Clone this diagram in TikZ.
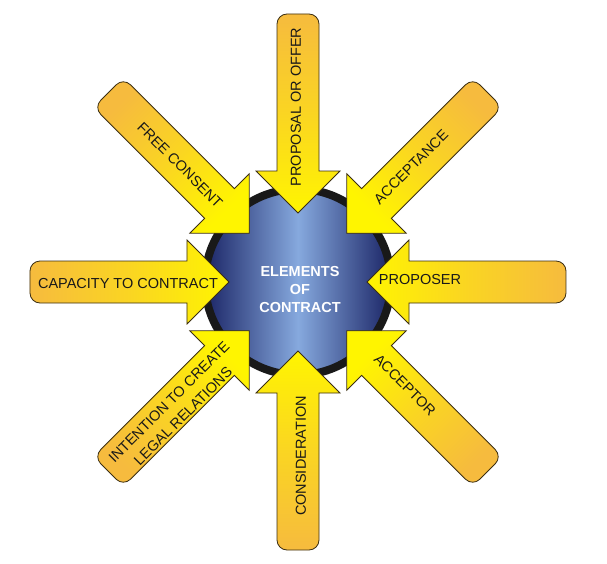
\documentclass[tikz,border=0pt]{standalone}
\usepackage{fontspec}
\setsansfont{Liberation Sans}
\usepackage{xcolor}
\usepackage{tikz}

\definecolor{navy}{HTML}{1B2566}
\definecolor{steel}{HTML}{86A9DE}
\definecolor{amber}{HTML}{F6BB3E}
\definecolor{lemon}{HTML}{FFF500}
\definecolor{rim}{HTML}{3B2E12}

\begin{document}
\begin{tikzpicture}[x=1pt,y=1pt,font=\sffamily\fontsize{14.5}{17}\selectfont,
  core/.style={circle,draw=black!90,line width=8pt,minimum size=186pt,left color=navy,right color=navy,middle color=steel},
  elemarrow/.pic={\draw[draw=rim,line width=.8pt,bottom color=amber,top color=lemon,middle color=lemon!45!amber,shading angle=#1]
    (69,0) -- (111,42) -- (111,21) -- (258,21) arc[start angle=90,end angle=0,radius=10]
    -- (268,-11) arc[start angle=0,end angle=-90,radius=10] -- (111,-21) -- (111,-42) -- cycle;},
  lbl/.style={text=black!90,inner sep=0pt,align=center}]
\useasboundingbox (-298,-281) rectangle (309,282);

% centre disc
\node[core] (core) at (0,0) {};
\node[lbl,text=white,font=\sffamily\bfseries\fontsize{14.5}{18}\selectfont] (core text) at (2,-8) {ELEMENTS\\OF\\CONTRACT};

% the eight arrows, tail out at the angle, tip at the disc
\pic[rotate=0] (proposer arrow) at (core) {elemarrow=90};
\pic[rotate=45] (acceptance arrow) at (core) {elemarrow=135};
\pic[rotate=90] (offer arrow) at (core) {elemarrow=180};
\pic[rotate=135] (consent arrow) at (core) {elemarrow=225};
\pic[rotate=180] (capacity arrow) at (core) {elemarrow=270};
\pic[rotate=225] (intention arrow) at (core) {elemarrow=315};
\pic[rotate=270] (consideration arrow) at (core) {elemarrow=0};
\pic[rotate=315] (acceptor arrow) at (core) {elemarrow=45};

% labels
\node[lbl] (proposer) at (122,2) {PROPOSER};
\node[lbl,rotate=45] (acceptance) at (113,115) {ACCEPTANCE};
\node[lbl,rotate=90] (offer) at (-2,175) {PROPOSAL OR OFFER};
\node[lbl,rotate=-45] (consent) at (-118,117) {FREE CONSENT};
\node[lbl] (capacity) at (-170,-2) {CAPACITY TO CONTRACT};
\node[lbl,rotate=45,font=\sffamily\fontsize{14.5}{20}\selectfont] (intention) at (-122,-127) {INTENTION TO CREATE\\LEGAL RELATIONS};
\node[lbl,rotate=90] (consideration) at (3,-174) {CONSIDERATION};
\node[lbl,rotate=-45] (acceptor) at (107,-103) {ACCEPTOR};

\end{tikzpicture}
\end{document}
